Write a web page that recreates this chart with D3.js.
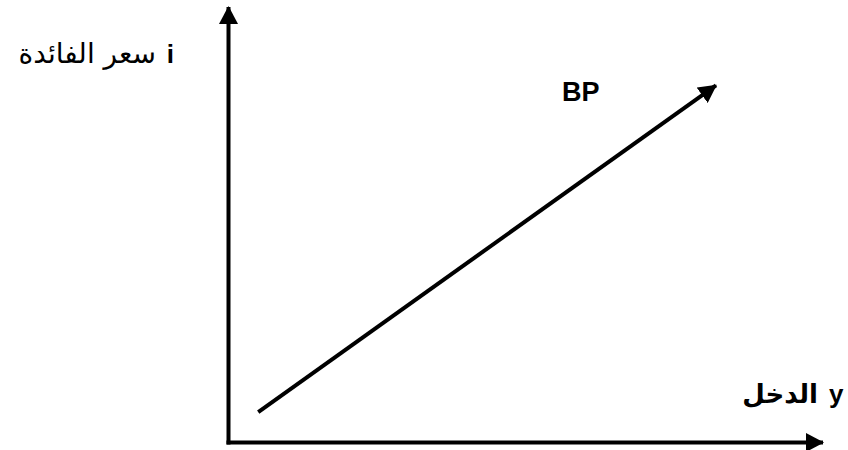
<!DOCTYPE html>
<html>
<head>
<meta charset="utf-8">
<script src="https://cdn.jsdelivr.net/npm/d3@7"></script>
<style>
  body { margin: 0; background: #fff; }
  svg { display: block; font-family: "Liberation Sans", Arial, sans-serif; }
</style>
</head>
<body>
<svg id="chart" width="848" height="450"></svg>
<script>
// axis extents (domain units)
const xDomain = [0, 100]
const yDomain = [0, 100]

// BP curve: income y vs interest rate i
const bpIncome = [5, 82]
const bpRate = [7, 82]

// labels
const yAxisLabel = ['i', 'سعر الفائدة']
const xAxisLabel = ['y', 'الدخل']
const curveLabel = 'BP'

const svg = d3.select('#chart')

const scaleX = d3.scaleLinear().domain(xDomain).range([228.5, 823])
const scaleY = d3.scaleLinear().domain(yDomain).range([442.5, 7])

// arrow head marker
svg.append('defs').append('marker')
  .attr('id', 'arrow')
  .attr('viewBox', '0 0 18 19')
  .attr('refX', 17)
  .attr('refY', 9.5)
  .attr('markerWidth', 18)
  .attr('markerHeight', 19)
  .attr('markerUnits', 'userSpaceOnUse')
  .attr('orient', 'auto')
  .append('path')
  .attr('d', 'M0,0 L18,9.5 L0,19 z')
  .attr('fill', '#000')

// vertical axis
svg.append('line')
  .attr('x1', scaleX(xDomain[0])).attr('y1', scaleY(yDomain[0]) + 2)
  .attr('x2', scaleX(xDomain[0])).attr('y2', scaleY(yDomain[1]))
  .attr('stroke', '#000').attr('stroke-width', 4)
  .attr('marker-end', 'url(#arrow)')

// horizontal axis
svg.append('line')
  .attr('x1', scaleX(xDomain[0]) - 2).attr('y1', scaleY(yDomain[0]))
  .attr('x2', scaleX(xDomain[1])).attr('y2', scaleY(yDomain[0]))
  .attr('stroke', '#000').attr('stroke-width', 4)
  .attr('marker-end', 'url(#arrow)')

// BP line
const bpData = bpIncome.map((v, i) => ({ x: v, y: bpRate[i] }))
svg.append('path')
  .datum(bpData)
  .attr('d', d3.line().x(d => scaleX(d.x)).y(d => scaleY(d.y)))
  .attr('fill', 'none')
  .attr('stroke', '#000')
  .attr('stroke-width', 4)
  .attr('marker-end', 'url(#arrow)')

// y axis label
svg.append('text')
  .attr('x', 174).attr('y', 63)
  .attr('text-anchor', 'end')
  .attr('font-size', 26)
  .attr('font-weight', 'bold')
  .text(yAxisLabel[0])
svg.append('text')
  .attr('x', 156).attr('y', 63)
  .attr('text-anchor', 'start')
  .attr('direction', 'rtl')
  .attr('font-family', '"DejaVu Sans", sans-serif')
  .attr('font-size', 28)
  .text(yAxisLabel[1])

// x axis label
svg.append('text')
  .attr('x', 829).attr('y', 403)
  .attr('font-size', 26)
  .attr('font-weight', 'bold')
  .text(xAxisLabel[0])
svg.append('text')
  .attr('x', 818).attr('y', 403)
  .attr('text-anchor', 'start')
  .attr('direction', 'rtl')
  .attr('font-family', '"DejaVu Sans", sans-serif')
  .attr('font-size', 26)
  .attr('font-weight', 'bold')
  .text(xAxisLabel[1])

// curve label
svg.append('text')
  .attr('x', 562).attr('y', 101)
  .attr('font-size', 27)
  .attr('font-weight', 'bold')
  .text(curveLabel)
</script>
</body>
</html>
